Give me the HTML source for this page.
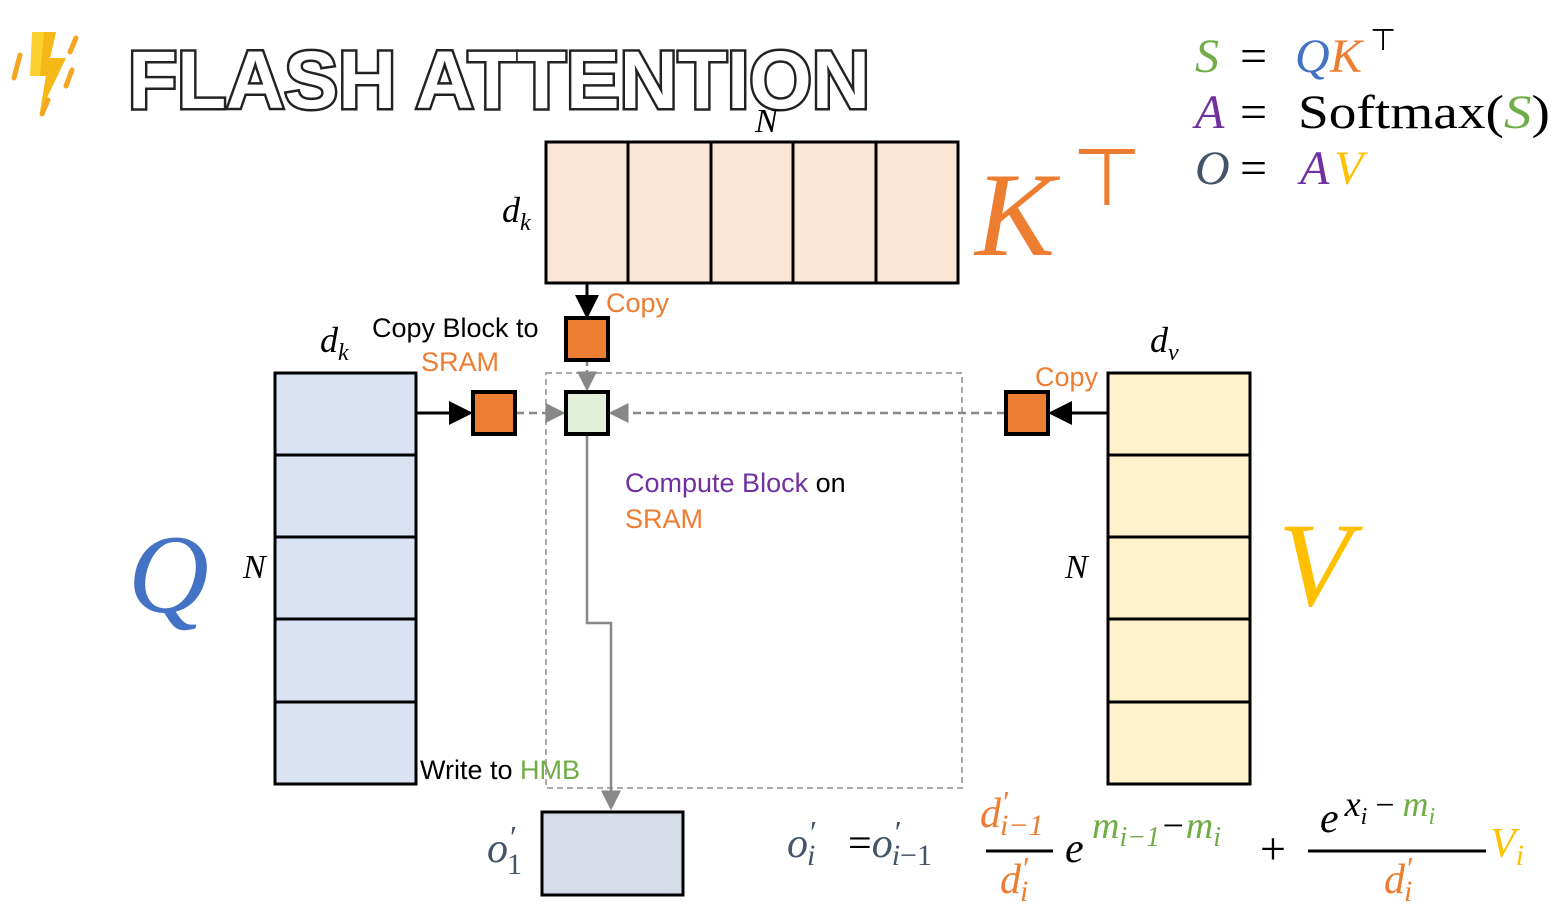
<!DOCTYPE html>
<html><head><meta charset="utf-8"><style>
html,body{margin:0;padding:0;background:#fff;}
svg{display:block;}
text{font-family:"Liberation Sans",sans-serif;}
text.m,tspan.m{font-family:"Liberation Serif",serif;font-style:italic;}
text.s{font-family:"Liberation Serif",serif;}
</style></head><body>
<svg width="1552" height="924" viewBox="0 0 1552 924">
<defs>
<marker id="ab" markerWidth="8" markerHeight="8" refX="7" refY="4" orient="auto"><path d="M0,0 L8,4 L0,8 z" fill="#000"/></marker>
<marker id="ag" markerWidth="8" markerHeight="8" refX="7" refY="4" orient="auto"><path d="M0,0 L8,4 L0,8 z" fill="#888"/></marker>
</defs>
<g>
<g>
<polygon points="32,32 56,32 50,58 66,58 40,112 46,76 30,76" fill="#fbd12f"/>
<polygon points="44,32 56,32 50,58 66,58 40,112 46,76 40,76" fill="#f6b816"/>
<line x1="20" y1="55" x2="14" y2="78" stroke="#f5a623" stroke-width="5" stroke-linecap="round"/>
<line x1="76" y1="38" x2="70" y2="52" stroke="#f5a623" stroke-width="5" stroke-linecap="round"/>
<line x1="72" y1="70" x2="66" y2="86" stroke="#f5a623" stroke-width="5" stroke-linecap="round"/>
<line x1="48" y1="100" x2="42" y2="114" stroke="#f5a623" stroke-width="5" stroke-linecap="round"/>
</g>
<text x="128" y="108" font-size="82" font-weight="bold" fill="#fff" stroke="#222" stroke-width="5" style="paint-order:stroke;font-weight:bold;" textLength="742" lengthAdjust="spacingAndGlyphs">FLASH ATTENTION</text>
</g>
<g>
<text x="1195" y="72" class="m" font-size="48" fill="#70ad47">S</text><text x="1240" y="72" class="s" font-size="48" fill="#000">=</text><text x="1295" y="72" class="m" font-size="48" fill="#4472c4">Q</text><text x="1330" y="72" class="m" font-size="48" fill="#ed7d31">K</text><text x="1370" y="50" font-size="30" fill="#000">⊤</text>
<text x="1195" y="128" class="m" font-size="48" fill="#7030a0">A</text><text x="1240" y="128" class="s" font-size="48" fill="#000">=</text><text x="1298" y="128" class="s" font-size="48" fill="#000" textLength="252" lengthAdjust="spacingAndGlyphs">Softmax(<tspan class="m" fill="#70ad47">S</tspan>)</text>
<text x="1195" y="184" class="m" font-size="48" fill="#44546a">O</text><text x="1240" y="184" class="s" font-size="48" fill="#000">=</text><text x="1300" y="184" class="m" font-size="48" fill="#7030a0">A</text><text x="1334" y="184" class="m" font-size="48" fill="#ffc000">V</text>
</g>
<g>
<rect x="546" y="142" width="412" height="141" fill="#fbe5d6" stroke="#000" stroke-width="3"/>
<line x1="628" y1="142" x2="628" y2="283" stroke="#000" stroke-width="3"/><line x1="711" y1="142" x2="711" y2="283" stroke="#000" stroke-width="3"/><line x1="793" y1="142" x2="793" y2="283" stroke="#000" stroke-width="3"/><line x1="876" y1="142" x2="876" y2="283" stroke="#000" stroke-width="3"/>
<text x="755" y="132" class="m" font-size="34">N</text>
<text x="502" y="222" class="m" font-size="36">d<tspan font-size="24" dy="8">k</tspan></text>
<text x="975" y="255" class="m" font-size="120" fill="#ed7d31">K</text>
<text x="1072" y="205" font-size="80" fill="#ed7d31">⊤</text>
</g>
<g>
<rect x="275" y="373" width="141" height="411" fill="#dae3f3" stroke="#000" stroke-width="3"/>
<line x1="275" y1="455" x2="416" y2="455" stroke="#000" stroke-width="3"/><line x1="275" y1="537" x2="416" y2="537" stroke="#000" stroke-width="3"/><line x1="275" y1="619" x2="416" y2="619" stroke="#000" stroke-width="3"/><line x1="275" y1="702" x2="416" y2="702" stroke="#000" stroke-width="3"/>
<text x="320" y="352" class="m" font-size="36">d<tspan font-size="24" dy="8">k</tspan></text>
<text x="243" y="578" class="m" font-size="34">N</text>
<text x="128" y="612" class="m" font-size="112" fill="#4472c4">Q</text>
</g>
<g>
<rect x="1108" y="373" width="142" height="411" fill="#fff2cc" stroke="#000" stroke-width="3"/>
<line x1="1108" y1="455" x2="1250" y2="455" stroke="#000" stroke-width="3"/><line x1="1108" y1="537" x2="1250" y2="537" stroke="#000" stroke-width="3"/><line x1="1108" y1="619" x2="1250" y2="619" stroke="#000" stroke-width="3"/><line x1="1108" y1="702" x2="1250" y2="702" stroke="#000" stroke-width="3"/>
<text x="1150" y="352" class="m" font-size="36">d<tspan font-size="24" dy="8">v</tspan></text>
<text x="1065" y="578" class="m" font-size="34">N</text>
<text x="1278" y="605" class="m" font-size="120" fill="#ffc000">V</text>
</g>
<rect x="546" y="373" width="416" height="415" fill="none" stroke="#aaa" stroke-width="2" stroke-dasharray="6,4"/>
<line x1="587" y1="283" x2="587" y2="316" stroke="#000" stroke-width="3" marker-end="url(#ab)"/>
<line x1="416" y1="413" x2="470" y2="413" stroke="#000" stroke-width="3" marker-end="url(#ab)"/>
<line x1="1108" y1="413" x2="1051" y2="413" stroke="#000" stroke-width="3" marker-end="url(#ab)"/>
<line x1="587" y1="360" x2="587" y2="389" stroke="#888" stroke-width="2.5" stroke-dasharray="6,4" marker-end="url(#ag)"/>
<line x1="516" y1="413" x2="563" y2="413" stroke="#888" stroke-width="2.5" stroke-dasharray="8,5" marker-end="url(#ag)"/>
<line x1="1005" y1="413" x2="611" y2="413" stroke="#888" stroke-width="2.5" stroke-dasharray="8,5" marker-end="url(#ag)"/>
<polyline points="587,435 587,623 611,623 611,808" fill="none" stroke="#888" stroke-width="2.5" marker-end="url(#ag)"/>
<rect x="566" y="318" width="42" height="42" fill="#ed7d31" stroke="#000" stroke-width="4"/>
<rect x="473" y="392" width="42" height="42" fill="#ed7d31" stroke="#000" stroke-width="4"/>
<rect x="1006" y="392" width="42" height="42" fill="#ed7d31" stroke="#000" stroke-width="4"/>
<rect x="566" y="392" width="42" height="42" fill="#e2f0d9" stroke="#000" stroke-width="4"/>
<rect x="542" y="812" width="141" height="83" fill="#d6dce5" stroke="#000" stroke-width="3"/>
<g font-size="27">
<text x="606" y="312" fill="#ed7d31">Copy</text>
<text x="372" y="337" fill="#000">Copy Block to</text>
<text x="421" y="371" fill="#ed7d31">SRAM</text>
<text x="1035" y="386" fill="#ed7d31">Copy</text>
<text x="625" y="492" fill="#7030a0">Compute Block <tspan fill="#000">on</tspan></text>
<text x="625" y="528" fill="#ed7d31">SRAM</text>
<text x="420" y="779" fill="#000">Write to <tspan fill="#70ad47">HMB</tspan></text>
</g>
<g>
<text x="487" y="862" class="m" font-size="42" fill="#44546a">o<tspan font-size="32" dx="2" dy="-14" style="font-style:normal">′</tspan><tspan font-size="30" dx="-10" dy="26" style="font-style:normal">1</tspan></text>
<text x="787" y="857" class="m" font-size="42" fill="#44546a">o<tspan font-size="32" dx="2" dy="-14" style="font-style:normal">′</tspan><tspan font-size="30" dx="-10" dy="22">i</tspan></text>
<text x="848" y="857" class="s" font-size="42" fill="#44546a"><tspan fill="#000">=</tspan><tspan class="m">o</tspan><tspan font-size="32" dx="2" dy="-14">′</tspan><tspan font-size="30" dx="-10" dy="22"><tspan class="m">i</tspan>−1</tspan></text>
<text x="980" y="827" class="m" font-size="42" fill="#ed7d31">d<tspan font-size="32" dx="2" dy="-14" style="font-style:normal">′</tspan><tspan font-size="30" dx="-10" dy="22">i−1</tspan></text>
<line x1="986" y1="851" x2="1053" y2="851" stroke="#000" stroke-width="3"/>
<text x="1000" y="893" class="m" font-size="42" fill="#ed7d31">d<tspan font-size="32" dx="2" dy="-14" style="font-style:normal">′</tspan><tspan font-size="30" dx="-10" dy="22">i</tspan></text>
<text x="1065" y="862" class="m" font-size="42" fill="#000">e</text>
<text x="1092" y="838" class="m" font-size="38" fill="#70ad47">m<tspan font-size="28" dy="8">i−1</tspan><tspan dy="-8" fill="#000">−</tspan>m<tspan font-size="28" dy="8">i</tspan></text>
<text x="1260" y="864" class="s" font-size="46" fill="#000">+</text>
<text x="1320" y="832" class="m" font-size="42" fill="#000">e<tspan font-size="36" dy="-16" dx="6">x</tspan><tspan font-size="24" dy="8">i</tspan><tspan font-size="34" dy="-8" dx="8" style="font-style:normal">−</tspan><tspan font-size="36" dx="8" fill="#70ad47">m</tspan><tspan font-size="24" dy="8" fill="#70ad47">i</tspan></text>
<line x1="1308" y1="851" x2="1486" y2="851" stroke="#000" stroke-width="3"/>
<text x="1384" y="893" class="m" font-size="42" fill="#ed7d31">d<tspan font-size="32" dx="2" dy="-14" style="font-style:normal">′</tspan><tspan font-size="30" dx="-10" dy="22">i</tspan></text>
<text x="1490" y="857" class="m" font-size="42" fill="#ffc000">V<tspan font-size="30" dy="8">i</tspan></text>
</g>
</svg>
</body></html>
